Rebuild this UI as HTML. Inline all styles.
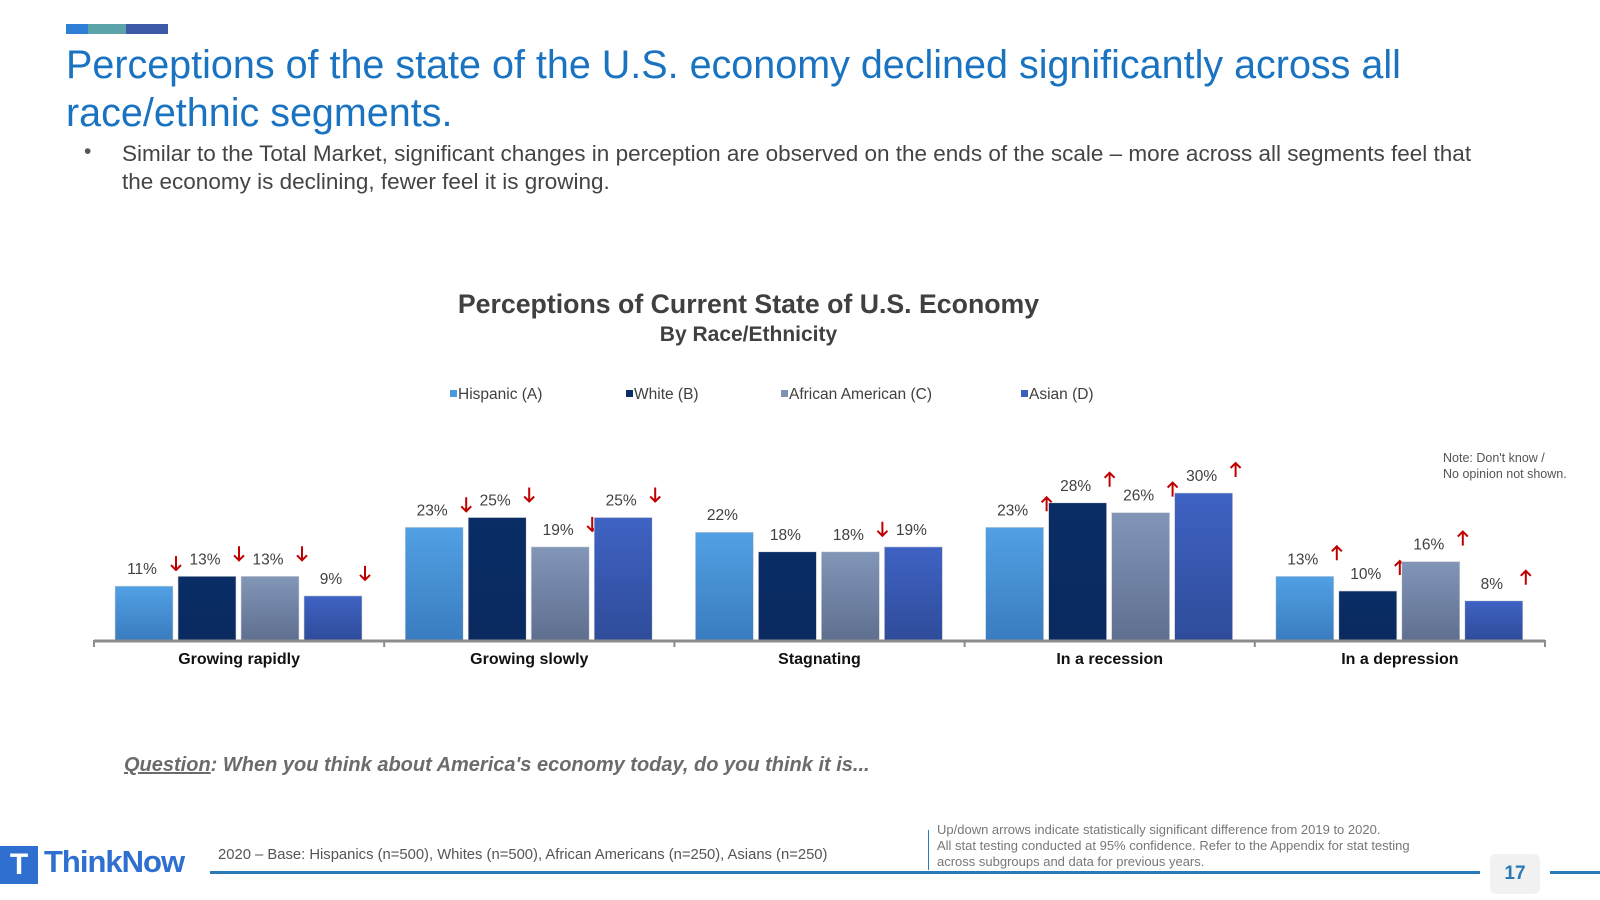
<!DOCTYPE html>
<html><head><meta charset="utf-8"><style>
body{margin:0;width:1600px;height:900px;background:#fff;font-family:"Liberation Sans",Arial,sans-serif;position:relative;overflow:hidden}
.a{position:absolute}
</style></head><body>
<div class="a" style="left:66px;top:24px;width:22px;height:10px;background:#2f7fd6"></div>
<div class="a" style="left:88px;top:24px;width:38px;height:10px;background:#5aa3a8"></div>
<div class="a" style="left:126px;top:24px;width:42px;height:10px;background:#3d5aa8"></div>
<div class="a" style="left:66px;top:41px;width:1460px;font-size:39.5px;line-height:48px;color:#1a73c0">Perceptions of the state of the U.S. economy declined significantly across all race/ethnic segments.</div>
<div class="a" style="left:84px;top:140px;font-size:21px;color:#555">•</div>
<div class="a" style="left:122px;top:140px;width:1380px;font-size:22.5px;line-height:28px;color:#444">Similar to the Total Market, significant changes in perception are observed on the ends of the scale – more across all segments feel that the economy is declining, fewer feel it is growing.</div>
<div class="a" style="left:0;width:1497px;top:289px;text-align:center;font-size:26.7px;font-weight:bold;color:#404040">Perceptions of Current State of U.S. Economy</div>
<div class="a" style="left:0;width:1497px;top:323px;text-align:center;font-size:21px;font-weight:bold;color:#404040">By Race/Ethnicity</div>
<div class="a" style="left:1443px;top:450px;font-size:12.5px;line-height:16px;color:#555">Note: Don't know /<br>No opinion not shown.</div>
<svg class="a" style="left:0;top:0" width="1600" height="900" id="chart"></svg>
<div class="a" style="left:124px;top:754px;font-size:20px;font-weight:bold;font-style:italic;color:#6b6b6b"><u>Question</u>: When you think about America's economy today, do you think it is...</div>
<div class="a" style="left:0;top:846px;width:38px;height:38px;background:#2f6fd0;color:#fff;font-weight:bold;font-size:30px;text-align:center;line-height:38px">T</div>
<div class="a" style="left:44px;top:844px;font-size:31px;font-weight:bold;color:#2f6fd0;letter-spacing:-1px">ThinkNow</div>
<div class="a" style="left:218px;top:847px;font-size:14.8px;color:#555">2020 – Base: Hispanics (n=500), Whites (n=500), African Americans (n=250), Asians (n=250)</div>
<div class="a" style="left:928px;top:830px;width:1px;height:40px;background:#2a7ab8"></div>
<div class="a" style="left:937px;top:822px;font-size:13px;line-height:16px;color:#777">Up/down arrows indicate statistically significant difference from 2019 to 2020.<br>All stat testing conducted at 95% confidence. Refer to the Appendix for stat testing<br>across subgroups and data for previous years.</div>
<div class="a" style="left:210px;top:871px;width:1270px;height:3px;background:#2a7ab8"></div>
<div class="a" style="left:1550px;top:871px;width:50px;height:3px;background:#2a7ab8"></div>
<div class="a" style="left:1490px;top:854px;width:50px;height:40px;background:#f1f1f1;border-radius:6px;text-align:center;line-height:40px;font-size:19px;font-weight:bold;color:#2a7ab8">17</div>
<script>
const categories=["Growing rapidly","Growing slowly","Stagnating","In a recession","In a depression"];
const seriesNames=["Hispanic (A)","White (B)","African American (C)","Asian (D)"];
const hispanic=[11,23,22,23,13];
const white=[13,25,18,28,10];
const africanAmerican=[13,19,18,26,16];
const asian=[9,25,19,30,8];
const arrowsA=["d","d","","u","u"];
const arrowsB=["d","d","","u","u"];
const arrowsC=["d","d","d","u","u"];
const arrowsD=["d","d","","u","u"];
const series=[hispanic,white,africanAmerican,asian];
const arrows=[arrowsA,arrowsB,arrowsC,arrowsD];
const grads=[["#52a0e4","#3a7cc0"],["#0a2d66","#0a2a60"],["#8296b8","#5f6f90"],["#3f63c4","#2f4c9a"]];
const legendCol=["#4a9ae0","#0a2d66","#7f92b4","#3b5fbf"];
const svg=document.getElementById('chart');const NS="http://www.w3.org/2000/svg";
const base=640,pxPer=4.9,gx0=94,gw=290.2,bw=58,step=63;
const y=v=>base-v*pxPer;
const x=(ci,si)=>gx0+ci*gw+21+si*step;
function mk(t,a){const e=document.createElementNS(NS,t);for(const k in a)e.setAttribute(k,a[k]);svg.appendChild(e);return e;}
let defs=mk('defs',{});
grads.forEach((g,i)=>{const lg=document.createElementNS(NS,'linearGradient');lg.id='g'+i;lg.setAttribute('x1',0);lg.setAttribute('y1',0);lg.setAttribute('x2',0);lg.setAttribute('y2',1);
[[0,g[0]],[1,g[1]]].forEach(s=>{const st=document.createElementNS(NS,'stop');st.setAttribute('offset',s[0]);st.setAttribute('stop-color',s[1]);lg.appendChild(st);});defs.appendChild(lg);});
seriesNames.forEach((n,i)=>{const lx=[450,626,781,1021][i];
const r=mk('rect',{x:lx,y:390,width:7,height:7,fill:legendCol[i]});


const t=mk('text',{x:lx+8,y:399,'font-size':15.5,fill:'#404040'});t.textContent=n;

});
series.forEach((s,si)=>s.forEach((v,ci)=>{
const bx=x(ci,si);
const r=mk('rect',{x:bx,y:y(v),width:bw,height:v*pxPer,fill:'url(#g'+si+')',stroke:'#d8d8d8','stroke-width':0.6});


const t=mk('text',{x:bx+bw/2-2,y:y(v)-12,'text-anchor':'middle','font-size':15.5,fill:'#404040'});t.textContent=v+'%';


const a=arrows[si][ci];
if(a){const ax=bx+bw+3,ty=y(v)-30;
const p=a=='d'?`M${ax},${ty} V${ty+14} M${ax-5},${ty+9} L${ax},${ty+14} L${ax+5},${ty+9}`:`M${ax},${ty+14} V${ty} M${ax-5},${ty+5} L${ax},${ty} L${ax+5},${ty+5}`;
const ar=mk('path',{d:p,stroke:'#c00000','stroke-width':2,fill:'none'});

}
}));
const ax=mk('line',{x1:gx0,y1:base+1,x2:gx0+5*gw,y2:base+1,stroke:'#8c8c8c','stroke-width':3});


for(let i=0;i<=5;i++){const tk=mk('line',{x1:gx0+i*gw,y1:base,x2:gx0+i*gw,y2:base+7,stroke:'#8c8c8c','stroke-width':2});

}
categories.forEach((c,i)=>{const t=mk('text',{x:gx0+i*gw+gw/2,y:664,'text-anchor':'middle','font-size':16,'font-weight':'bold',fill:'#111'});t.textContent=c;

});
</script>
</body></html>
